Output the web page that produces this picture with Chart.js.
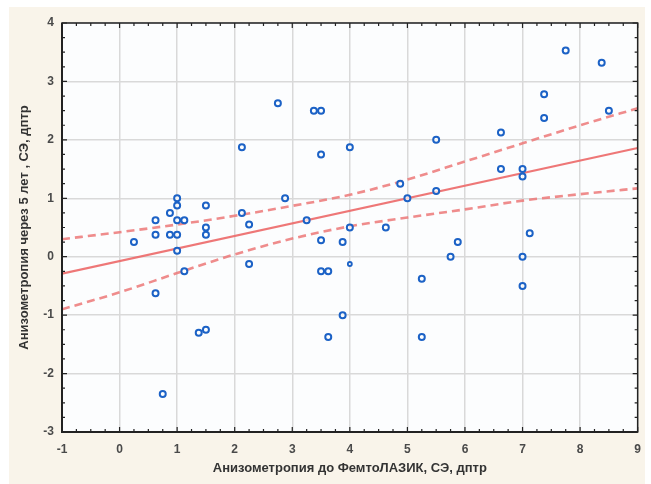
<!DOCTYPE html>
<html lang="ru">
<head>
<meta charset="utf-8">
<title>Анизометропия</title>
<script src="https://cdn.jsdelivr.net/npm/chart.js@4.4.1/dist/chart.umd.min.js"></script>
<style>
  html, body { margin: 0; padding: 0; background: #ffffff; }
  #wrap { width: 651px; height: 484px; position: relative; }
</style>
</head>
<body>
<div id="wrap"><canvas id="chart" width="651" height="484"></canvas></div>
<script>
// ---- данные ----
const pointsX = [
  0.25, 0.625, 0.625, 0.625, 0.75, 0.875, 0.875, 1.0, 1.0, 1.0,
  1.0, 1.0, 1.125, 1.125, 1.375, 1.5, 1.5, 1.5, 1.5, 2.125,
  2.125, 2.25, 2.25, 2.75, 2.875, 3.25, 3.375, 3.5, 3.5, 3.5,
  3.5, 3.625, 3.625, 3.875, 3.875, 4.0, 4.0, 4.625, 4.875, 5.0,
  5.25, 5.25, 5.5, 5.5, 5.75, 5.875, 6.625, 6.625, 7.0, 7.0,
  7.0, 7.0, 7.125, 7.375, 7.375, 7.75, 8.375, 8.5
];
const pointsY = [
  0.25, 0.625, 0.375, -0.625, -2.35, 0.75, 0.375, 1.0, 0.875, 0.625,
  0.375, 0.1, 0.625, -0.25, -1.3, -1.25, 0.875, 0.5, 0.375, 1.875,
  0.75, 0.55, -0.125, 2.625, 1.0, 0.625, 2.5, 2.5, 1.75, 0.28,
  -0.25, -0.25, -1.375, 0.25, -1.0, 1.875, 0.5, 0.5, 1.25, 1.0,
  -0.375, -1.375, 2.0, 1.125, 0.0, 0.25, 2.125, 1.5, 1.5, 1.375,
  0.0, -0.5, 0.4, 2.78, 2.375, 3.53, 3.32, 2.5
];
// маленькая точка
const smallX = [4.0];
const smallY = [-0.125];

// линия регрессии
const regX = [-1, 9];
const regY = [-0.29, 1.86];

// доверительные границы
const bandX  = [-1, 0, 1, 2, 3, 4, 5, 6, 7, 8, 9];
const upperY = [0.30, 0.42, 0.55, 0.70, 0.87, 1.06, 1.32, 1.63, 1.94, 2.25, 2.54];
const lowerY = [-0.90, -0.61, -0.28, 0.04, 0.31, 0.52, 0.67, 0.81, 0.96, 1.07, 1.17];

const xTicks = [-1, 0, 1, 2, 3, 4, 5, 6, 7, 8, 9];
const yTicks = [-3, -2, -1, 0, 1, 2, 3, 4];

const xTitle = 'Анизометропия до ФемтоЛАЗИК, СЭ, дптр';
const yTitle = 'Анизометропия через 5 лет , СЭ, дптр';

const zip = (xs, ys) => xs.map((x, i) => ({ x, y: ys[i] }));

// фон: кремовая подложка + белое поле графика
const bgPlugin = {
  id: 'bg',
  beforeDraw(chart) {
    const { ctx, chartArea: a } = chart;
    ctx.save();
    ctx.fillStyle = '#ffffff';
    ctx.fillRect(0, 0, chart.width, chart.height);
    ctx.fillStyle = '#f9f4ea';
    ctx.fillRect(9, 7, 636, chart.height - 7);
    ctx.fillStyle = '#fcfdfe';
    ctx.fillRect(a.left, a.top, a.right - a.left, a.bottom - a.top);
    ctx.restore();
  }
};

// рамка и внутренние засечки по всем четырём сторонам
const framePlugin = {
  id: 'frame',
  afterDraw(chart) {
    const { ctx, chartArea: a } = chart;
    const sx = chart.scales.x, sy = chart.scales.y;
    ctx.save();
    ctx.strokeStyle = '#222222';
    ctx.lineWidth = 1.5;
    ctx.strokeRect(a.left, a.top, a.right - a.left, a.bottom - a.top);
    ctx.lineWidth = 2;
    ctx.beginPath();
    ctx.moveTo(a.left, a.top); ctx.lineTo(a.left, a.bottom); ctx.lineTo(a.right, a.bottom);
    ctx.stroke();

    ctx.lineWidth = 1.2;
    ctx.beginPath();
    for (let v = -1; v <= 9.001; v += 0.25) {
      const px = sx.getPixelForValue(v);
      const len = Math.abs(v - Math.round(v)) < 1e-6 ? 5 : 3;
      ctx.moveTo(px, a.bottom); ctx.lineTo(px, a.bottom - len);
      ctx.moveTo(px, a.top);    ctx.lineTo(px, a.top + len);
    }
    for (let v = -3; v <= 4.001; v += 0.25) {
      const py = sy.getPixelForValue(v);
      const len = Math.abs(v - Math.round(v)) < 1e-6 ? 5 : 3;
      ctx.moveTo(a.left, py);  ctx.lineTo(a.left + len, py);
      ctx.moveTo(a.right, py); ctx.lineTo(a.right - len, py);
    }
    ctx.stroke();
    ctx.restore();
  }
};

const tickFont = { family: "'Liberation Sans', Arial, sans-serif", size: 12, weight: 'bold' };
const titleFont = { family: "'Liberation Sans', Arial, sans-serif", size: 13, weight: 'bold' };

new Chart(document.getElementById('chart'), {
  type: 'scatter',
  data: {
    datasets: [
      {
        label: 'points',
        data: zip(pointsX, pointsY),
        pointRadius: 3,
        pointBorderWidth: 2,
        borderColor: '#1c62c6',
        backgroundColor: 'rgba(255,255,255,0.7)',
        order: 0
      },
      {
        label: 'small',
        data: zip(smallX, smallY),
        pointRadius: 2,
        pointBorderWidth: 1.8,
        borderColor: '#1c62c6',
        backgroundColor: 'rgba(255,255,255,0.7)',
        order: 0
      },
      {
        label: 'fit',
        type: 'line',
        data: zip(regX, regY),
        borderColor: 'rgba(236,104,104,0.9)',
        borderWidth: 2.2,
        pointRadius: 0,
        fill: false,
        order: 1
      },
      {
        label: 'upper',
        type: 'line',
        data: zip(bandX, upperY),
        borderColor: 'rgba(236,120,120,0.85)',
        borderWidth: 2.6,
        borderDash: [8, 5],
        cubicInterpolationMode: 'monotone',
        pointRadius: 0,
        fill: false,
        order: 2
      },
      {
        label: 'lower',
        type: 'line',
        data: zip(bandX, lowerY),
        borderColor: 'rgba(236,120,120,0.85)',
        borderWidth: 2.6,
        borderDash: [8, 5],
        cubicInterpolationMode: 'monotone',
        pointRadius: 0,
        fill: false,
        order: 2
      }
    ]
  },
  options: {
    responsive: false,
    animation: false,
    layout: { padding: { left: 0, top: 23, right: 11, bottom: 0 } },
    plugins: {
      legend: { display: false },
      tooltip: { enabled: false }
    },
    scales: {
      x: {
        type: 'linear',
        min: -1, max: 9,
        afterBuildTicks: s => { s.ticks = xTicks.map(v => ({ value: v })); },
        afterFit: s => { s.height = 52; },
        grid: { color: '#d9d9d9', lineWidth: 1.5, drawTicks: false },
        border: { display: false },
        ticks: { font: tickFont, color: '#4a4a4a', padding: 10, maxRotation: 0 },
        title: { display: true, text: xTitle, font: titleFont, color: '#333333', padding: { bottom: 8 } }
      },
      y: {
        type: 'linear',
        min: -3, max: 4,
        afterBuildTicks: s => { s.ticks = yTicks.map(v => ({ value: v })); },
        afterFit: s => { s.width = 62; },
        grid: { color: '#d9d9d9', lineWidth: 1.5, drawTicks: false },
        border: { display: false },
        ticks: { font: tickFont, color: '#4a4a4a', padding: 8 },
        title: { display: true, text: yTitle, font: titleFont, color: '#333333', padding: { top: 17 } }
      }
    }
  },
  plugins: [bgPlugin, framePlugin]
});
</script>
</body>
</html>
